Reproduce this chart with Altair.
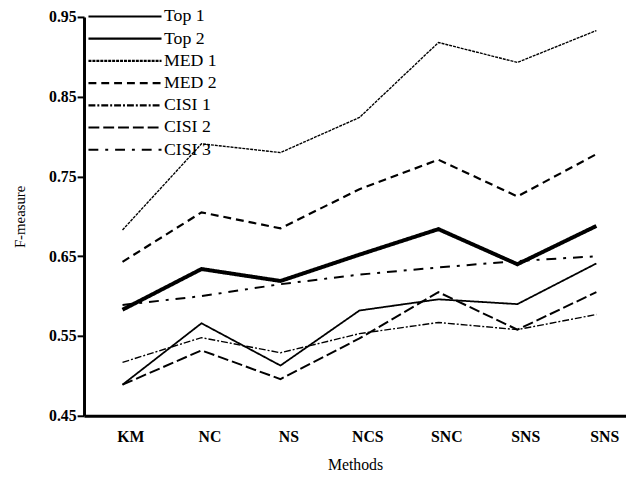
import altair as alt
import pandas as pd

methods = ["KM", "NC", "NS", "NCS", "SNC", "SNS", "SNS"]
series_names = ["Top 1", "Top 2", "MED 1", "MED 2", "CISI 1", "CISI 2", "CISI 3"]

top1 = [0.583, 0.634, 0.619, 0.652, 0.684, 0.640, 0.688]
top2 = [0.489, 0.566, 0.513, 0.582, 0.596, 0.590, 0.641]
med1 = [0.683, 0.791, 0.780, 0.824, 0.918, 0.893, 0.933]
med2 = [0.643, 0.705, 0.685, 0.734, 0.771, 0.725, 0.778]
cisi1 = [0.517, 0.548, 0.529, 0.553, 0.567, 0.558, 0.577]
cisi2 = [0.489, 0.532, 0.496, 0.547, 0.605, 0.558, 0.605]
cisi3 = [0.589, 0.600, 0.615, 0.627, 0.636, 0.644, 0.650]

values = [top1, top2, med1, med2, cisi1, cisi2, cisi3]
dashes = [[1, 0], [1, 0], [3, 1], [8, 5], [7, 2, 2, 2], [11, 4], [10, 7, 3, 7]]
widths = [4, 1.8, 1.4, 2.2, 1.4, 2.0, 2.0]

rows = []
for name, w, vals in zip(series_names, widths, values):
    for i, v in enumerate(vals):
        rows.append({"series": name, "pos": i + 1, "value": v, "w": w})
df = pd.DataFrame(rows)

label_expr = "[" + ",".join("'%s'" % m for m in methods) + "][datum.value - 1]"

serif = "Liberation Serif"

chart = alt.Chart(df).mark_line(color="black", strokeJoin="miter", strokeCap="butt").encode(
    x=alt.X(
        "pos:Q",
        scale=alt.Scale(domain=[0.5125, 7.375], nice=False, zero=False),
        axis=alt.Axis(
            values=list(range(1, len(methods) + 1)),
            labelExpr=label_expr,
            ticks=False,
            grid=False,
            labelPadding=13,
            labelOffset=8,
            labelFont=serif,
            labelFontSize=16,
            labelFontWeight="bold",
            labelColor="black",
            domainColor="black",
            domainWidth=3,
            title="Methods",
            titleFont=serif,
            titleFontSize=16,
            titleFontWeight="normal",
            titleColor="black",
            titlePadding=12,
        ),
    ),
    y=alt.Y(
        "value:Q",
        scale=alt.Scale(domain=[0.45, 0.95], nice=False, zero=False),
        axis=alt.Axis(
            values=[0.45, 0.55, 0.65, 0.75, 0.85, 0.95],
            format=".2f",
            grid=False,
            tickSize=7,
            tickWidth=2,
            tickColor="black",
            labelPadding=1,
            labelFont=serif,
            labelFontSize=16,
            labelFontWeight="bold",
            labelColor="black",
            domainColor="black",
            domainWidth=3,
            title="F-measure",
            titleFont=serif,
            titleFontSize=15,
            titleFontWeight="normal",
            titleColor="black",
            titlePadding=21,
        ),
    ),
    strokeDash=alt.StrokeDash(
        "series:N",
        scale=alt.Scale(domain=series_names, range=dashes),
        legend=alt.Legend(title=None),
    ),
    strokeWidth=alt.StrokeWidth("w:Q", scale=None, legend=None),
    detail="series:N",
).properties(
    width=549,
    height=404,
    padding={"left": 77, "top": 6, "right": 0, "bottom": 65},
    autosize="none",
).configure_view(
    strokeWidth=0
).configure_legend(
    orient="none",
    legendX=3,
    legendY=-10.5,
    symbolType="stroke",
    symbolSize=5476,
    symbolStrokeColor="black",
    symbolStrokeWidth=2.2,
    clipHeight=20,
    rowPadding=2.5,
    labelOffset=1,
    labelFont=serif,
    labelFontSize=18,
    labelColor="black",
    padding=0,
)

chart.save("out.html", embed_options={"renderer": "svg", "actions": False})
